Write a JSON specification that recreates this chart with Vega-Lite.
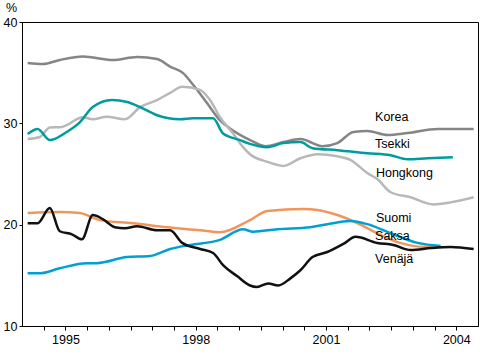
{
  "$schema": "https://vega.github.io/schema/vega-lite/v6.json",
  "width": 456,
  "height": 304,
  "autosize": "none",
  "padding": {"left": 22, "top": 22, "right": 22, "bottom": 29},
  "background": "white",
  "config": {
    "view": {"stroke": "black", "strokeWidth": 1},
    "font": "Liberation Sans",
    "axis": {"grid": false, "domainColor": "black", "tickColor": "black", "labelColor": "black", "labelFont": "Liberation Sans", "labelFontSize": 12.5, "titleFont": "Liberation Sans", "titleFontWeight": "normal", "titleFontSize": 12.5, "titleColor": "black"}
  },
  "datasets": {
    "lines": [
      {"maa": "Korea", "vuosi": 1994.13, "arvo": 35.95},
      {"maa": "Korea", "vuosi": 1994.48, "arvo": 35.85},
      {"maa": "Korea", "vuosi": 1994.87, "arvo": 36.25},
      {"maa": "Korea", "vuosi": 1995.4, "arvo": 36.6},
      {"maa": "Korea", "vuosi": 1996.09, "arvo": 36.25},
      {"maa": "Korea", "vuosi": 1996.65, "arvo": 36.55},
      {"maa": "Korea", "vuosi": 1997.11, "arvo": 36.35},
      {"maa": "Korea", "vuosi": 1997.41, "arvo": 35.6},
      {"maa": "Korea", "vuosi": 1997.71, "arvo": 34.95},
      {"maa": "Korea", "vuosi": 1997.94, "arvo": 33.8},
      {"maa": "Korea", "vuosi": 1998.26, "arvo": 32.0},
      {"maa": "Korea", "vuosi": 1998.56, "arvo": 30.3},
      {"maa": "Korea", "vuosi": 1998.79, "arvo": 29.5},
      {"maa": "Korea", "vuosi": 1999.23, "arvo": 28.4},
      {"maa": "Korea", "vuosi": 1999.6, "arvo": 27.75},
      {"maa": "Korea", "vuosi": 2000.02, "arvo": 28.15},
      {"maa": "Korea", "vuosi": 2000.41, "arvo": 28.45},
      {"maa": "Korea", "vuosi": 2000.92, "arvo": 27.75},
      {"maa": "Korea", "vuosi": 2001.26, "arvo": 28.05},
      {"maa": "Korea", "vuosi": 2001.63, "arvo": 29.15},
      {"maa": "Korea", "vuosi": 2001.95, "arvo": 29.25},
      {"maa": "Korea", "vuosi": 2002.42, "arvo": 28.85},
      {"maa": "Korea", "vuosi": 2002.88, "arvo": 29.05},
      {"maa": "Korea", "vuosi": 2003.57, "arvo": 29.45},
      {"maa": "Korea", "vuosi": 2004.4, "arvo": 29.45},
      {"maa": "Hongkong", "vuosi": 1994.13, "arvo": 28.45},
      {"maa": "Hongkong", "vuosi": 1994.41, "arvo": 28.65},
      {"maa": "Hongkong", "vuosi": 1994.64, "arvo": 29.6},
      {"maa": "Hongkong", "vuosi": 1994.92, "arvo": 29.65},
      {"maa": "Hongkong", "vuosi": 1995.4, "arvo": 30.6},
      {"maa": "Hongkong", "vuosi": 1995.63, "arvo": 30.4},
      {"maa": "Hongkong", "vuosi": 1995.95, "arvo": 30.65},
      {"maa": "Hongkong", "vuosi": 1996.37, "arvo": 30.4},
      {"maa": "Hongkong", "vuosi": 1996.72, "arvo": 31.6},
      {"maa": "Hongkong", "vuosi": 1997.11, "arvo": 32.3},
      {"maa": "Hongkong", "vuosi": 1997.41, "arvo": 33.0},
      {"maa": "Hongkong", "vuosi": 1997.69, "arvo": 33.6},
      {"maa": "Hongkong", "vuosi": 1998.1, "arvo": 33.3},
      {"maa": "Hongkong", "vuosi": 1998.33, "arvo": 32.3},
      {"maa": "Hongkong", "vuosi": 1998.56, "arvo": 30.6},
      {"maa": "Hongkong", "vuosi": 1998.86, "arvo": 29.0},
      {"maa": "Hongkong", "vuosi": 1999.09, "arvo": 27.65},
      {"maa": "Hongkong", "vuosi": 1999.25, "arvo": 26.95},
      {"maa": "Hongkong", "vuosi": 1999.65, "arvo": 26.2},
      {"maa": "Hongkong", "vuosi": 2000.02, "arvo": 25.8},
      {"maa": "Hongkong", "vuosi": 2000.41, "arvo": 26.55},
      {"maa": "Hongkong", "vuosi": 2000.8, "arvo": 26.95},
      {"maa": "Hongkong", "vuosi": 2001.26, "arvo": 26.75},
      {"maa": "Hongkong", "vuosi": 2001.56, "arvo": 26.4},
      {"maa": "Hongkong", "vuosi": 2001.95, "arvo": 25.1},
      {"maa": "Hongkong", "vuosi": 2002.18, "arvo": 24.5},
      {"maa": "Hongkong", "vuosi": 2002.49, "arvo": 23.2},
      {"maa": "Hongkong", "vuosi": 2002.95, "arvo": 22.7},
      {"maa": "Hongkong", "vuosi": 2003.47, "arvo": 22.0},
      {"maa": "Hongkong", "vuosi": 2003.87, "arvo": 22.2},
      {"maa": "Hongkong", "vuosi": 2004.4, "arvo": 22.7},
      {"maa": "Tsekki", "vuosi": 1994.13, "arvo": 28.95},
      {"maa": "Tsekki", "vuosi": 1994.36, "arvo": 29.45},
      {"maa": "Tsekki", "vuosi": 1994.64, "arvo": 28.35},
      {"maa": "Tsekki", "vuosi": 1995.03, "arvo": 29.15},
      {"maa": "Tsekki", "vuosi": 1995.33, "arvo": 30.1},
      {"maa": "Tsekki", "vuosi": 1995.63, "arvo": 31.6},
      {"maa": "Tsekki", "vuosi": 1996.07, "arvo": 32.3},
      {"maa": "Tsekki", "vuosi": 1996.42, "arvo": 32.1},
      {"maa": "Tsekki", "vuosi": 1996.72, "arvo": 31.6},
      {"maa": "Tsekki", "vuosi": 1997.11, "arvo": 30.8},
      {"maa": "Tsekki", "vuosi": 1997.64, "arvo": 30.4},
      {"maa": "Tsekki", "vuosi": 1997.94, "arvo": 30.5},
      {"maa": "Tsekki", "vuosi": 1998.4, "arvo": 30.5},
      {"maa": "Tsekki", "vuosi": 1998.63, "arvo": 29.0},
      {"maa": "Tsekki", "vuosi": 1999.02, "arvo": 28.35},
      {"maa": "Tsekki", "vuosi": 1999.23, "arvo": 28.0},
      {"maa": "Tsekki", "vuosi": 1999.65, "arvo": 27.65},
      {"maa": "Tsekki", "vuosi": 2000.02, "arvo": 28.05},
      {"maa": "Tsekki", "vuosi": 2000.41, "arvo": 28.15},
      {"maa": "Tsekki", "vuosi": 2000.69, "arvo": 27.55},
      {"maa": "Tsekki", "vuosi": 2001.26, "arvo": 27.35},
      {"maa": "Tsekki", "vuosi": 2001.95, "arvo": 27.05},
      {"maa": "Tsekki", "vuosi": 2002.49, "arvo": 26.85},
      {"maa": "Tsekki", "vuosi": 2002.88, "arvo": 26.45},
      {"maa": "Tsekki", "vuosi": 2003.34, "arvo": 26.55},
      {"maa": "Tsekki", "vuosi": 2003.92, "arvo": 26.65},
      {"maa": "Suomi", "vuosi": 1994.13, "arvo": 21.15},
      {"maa": "Suomi", "vuosi": 1994.87, "arvo": 21.25},
      {"maa": "Suomi", "vuosi": 1995.33, "arvo": 21.15},
      {"maa": "Suomi", "vuosi": 1995.79, "arvo": 20.45},
      {"maa": "Suomi", "vuosi": 1996.55, "arvo": 20.15},
      {"maa": "Suomi", "vuosi": 1997.34, "arvo": 19.75},
      {"maa": "Suomi", "vuosi": 1998.1, "arvo": 19.45},
      {"maa": "Suomi", "vuosi": 1998.56, "arvo": 19.25},
      {"maa": "Suomi", "vuosi": 1999.25, "arvo": 20.45},
      {"maa": "Suomi", "vuosi": 1999.65, "arvo": 21.35},
      {"maa": "Suomi", "vuosi": 2000.48, "arvo": 21.55},
      {"maa": "Suomi", "vuosi": 2000.8, "arvo": 21.45},
      {"maa": "Suomi", "vuosi": 2001.26, "arvo": 20.95},
      {"maa": "Suomi", "vuosi": 2001.72, "arvo": 20.15},
      {"maa": "Suomi", "vuosi": 2002.18, "arvo": 19.15},
      {"maa": "Suomi", "vuosi": 2002.71, "arvo": 18.2},
      {"maa": "Suomi", "vuosi": 2003.25, "arvo": 17.8},
      {"maa": "Suomi", "vuosi": 2003.64, "arvo": 17.8},
      {"maa": "Saksa", "vuosi": 1994.13, "arvo": 15.2},
      {"maa": "Saksa", "vuosi": 1994.41, "arvo": 15.2},
      {"maa": "Saksa", "vuosi": 1994.87, "arvo": 15.7},
      {"maa": "Saksa", "vuosi": 1995.49, "arvo": 16.2},
      {"maa": "Saksa", "vuosi": 1995.72, "arvo": 16.2},
      {"maa": "Saksa", "vuosi": 1996.42, "arvo": 16.8},
      {"maa": "Saksa", "vuosi": 1996.95, "arvo": 16.9},
      {"maa": "Saksa", "vuosi": 1997.41, "arvo": 17.6},
      {"maa": "Saksa", "vuosi": 1997.87, "arvo": 18.0},
      {"maa": "Saksa", "vuosi": 1998.56, "arvo": 18.5},
      {"maa": "Saksa", "vuosi": 1999.09, "arvo": 19.55},
      {"maa": "Saksa", "vuosi": 1999.32, "arvo": 19.3},
      {"maa": "Saksa", "vuosi": 1999.88, "arvo": 19.55},
      {"maa": "Saksa", "vuosi": 2000.64, "arvo": 19.75},
      {"maa": "Saksa", "vuosi": 2001.03, "arvo": 20.05},
      {"maa": "Saksa", "vuosi": 2001.56, "arvo": 20.35},
      {"maa": "Saksa", "vuosi": 2001.95, "arvo": 20.05},
      {"maa": "Saksa", "vuosi": 2002.49, "arvo": 19.15},
      {"maa": "Saksa", "vuosi": 2003.11, "arvo": 18.2},
      {"maa": "Saksa", "vuosi": 2003.64, "arvo": 17.9},
      {"maa": "Venäjä", "vuosi": 1994.13, "arvo": 20.15},
      {"maa": "Venäjä", "vuosi": 1994.36, "arvo": 20.15},
      {"maa": "Venäjä", "vuosi": 1994.64, "arvo": 21.65},
      {"maa": "Venäjä", "vuosi": 1994.87, "arvo": 19.35},
      {"maa": "Venäjä", "vuosi": 1995.15, "arvo": 19.05},
      {"maa": "Venäjä", "vuosi": 1995.38, "arvo": 18.55},
      {"maa": "Venäjä", "vuosi": 1995.63, "arvo": 20.95},
      {"maa": "Venäjä", "vuosi": 1995.86, "arvo": 20.55},
      {"maa": "Venäjä", "vuosi": 1996.14, "arvo": 19.75},
      {"maa": "Venäjä", "vuosi": 1996.37, "arvo": 19.65},
      {"maa": "Venäjä", "vuosi": 1996.65, "arvo": 19.85},
      {"maa": "Venäjä", "vuosi": 1997.11, "arvo": 19.45},
      {"maa": "Venäjä", "vuosi": 1997.41, "arvo": 19.45},
      {"maa": "Venäjä", "vuosi": 1997.69, "arvo": 18.2},
      {"maa": "Venäjä", "vuosi": 1998.1, "arvo": 17.6},
      {"maa": "Venäjä", "vuosi": 1998.4, "arvo": 17.2},
      {"maa": "Venäjä", "vuosi": 1998.63, "arvo": 16.0},
      {"maa": "Venäjä", "vuosi": 1998.96, "arvo": 14.9},
      {"maa": "Venäjä", "vuosi": 1999.25, "arvo": 14.0},
      {"maa": "Venäjä", "vuosi": 1999.41, "arvo": 13.85},
      {"maa": "Venäjä", "vuosi": 1999.67, "arvo": 14.2},
      {"maa": "Venäjä", "vuosi": 1999.9, "arvo": 14.0},
      {"maa": "Venäjä", "vuosi": 2000.18, "arvo": 14.7},
      {"maa": "Venäjä", "vuosi": 2000.41, "arvo": 15.5},
      {"maa": "Venäjä", "vuosi": 2000.69, "arvo": 16.8},
      {"maa": "Venäjä", "vuosi": 2001.03, "arvo": 17.3},
      {"maa": "Venäjä", "vuosi": 2001.4, "arvo": 18.1},
      {"maa": "Venäjä", "vuosi": 2001.68, "arvo": 18.8},
      {"maa": "Venäjä", "vuosi": 2002.18, "arvo": 18.2},
      {"maa": "Venäjä", "vuosi": 2002.55, "arvo": 18.0},
      {"maa": "Venäjä", "vuosi": 2002.95, "arvo": 17.5},
      {"maa": "Venäjä", "vuosi": 2003.42, "arvo": 17.7},
      {"maa": "Venäjä", "vuosi": 2003.87, "arvo": 17.8},
      {"maa": "Venäjä", "vuosi": 2004.4, "arvo": 17.6}
    ],
    "labels": [
      {"nimi": "Korea", "vuosi": 2002.13, "arvo": 30.65},
      {"nimi": "Tsekki", "vuosi": 2002.13, "arvo": 27.95},
      {"nimi": "Hongkong", "vuosi": 2002.15, "arvo": 25.1},
      {"nimi": "Suomi", "vuosi": 2002.15, "arvo": 20.65},
      {"nimi": "Saksa", "vuosi": 2002.13, "arvo": 18.85},
      {"nimi": "Venäjä", "vuosi": 2002.13, "arvo": 16.6}
    ]
  },
  "encoding": {
    "x": {
      "field": "vuosi", "type": "quantitative",
      "scale": {"domain": [1994, 2004.5], "nice": false, "zero": false},
      "axis": {
        "title": null,
        "values": [1994.5, 1995, 1995.5, 1996, 1996.5, 1997, 1997.5, 1998, 1998.5, 1999, 1999.5, 2000, 2000.5, 2001, 2001.5, 2002, 2002.5, 2003, 2003.5, 2004],
        "labelExpr": "(datum.value == 1995 || datum.value == 1998 || datum.value == 2001 || datum.value == 2004) ? ('' + datum.value) : ''",
        "tickSize": 4, "labelPadding": 3, "labelFlush": false, "labelOverlap": false, "labelBound": false
      }
    },
    "y": {
      "field": "arvo", "type": "quantitative",
      "scale": {"domain": [10, 40], "nice": false, "zero": false},
      "axis": {
        "values": [10, 20, 30, 40],
        "title": "%", "titleAngle": 0, "titleX": -11, "titleY": -11, "titleAlign": "center", "titleBaseline": "alphabetic",
        "tickSize": 3, "labelPadding": 2
      }
    }
  },
  "layer": [
    {
      "mark": {"type": "rule", "color": "black", "strokeWidth": 1},
      "encoding": {"y": {"datum": 30}, "x": null}
    },
    {
      "data": {"name": "lines"},
      "mark": {"type": "line", "strokeWidth": 2.5, "interpolate": "monotone"},
      "encoding": {
        "color": {
          "field": "maa", "type": "nominal", "legend": null,
          "scale": {"domain": ["Korea", "Hongkong", "Tsekki", "Suomi", "Saksa", "Venäjä"], "range": ["#858585", "#b8b8b8", "#009c9c", "#f0965a", "#00a0d2", "#111111"]}
        }
      }
    },
    {
      "data": {"name": "labels"},
      "mark": {"type": "text", "align": "left", "baseline": "middle", "fontSize": 12.5, "font": "Liberation Sans", "color": "black"},
      "encoding": {"text": {"field": "nimi"}}
    },
    {
      "mark": {"type": "rule", "color": "black", "strokeWidth": 2},
      "encoding": {"x": {"datum": 2004.5}, "y": null}
    }
  ]
}
